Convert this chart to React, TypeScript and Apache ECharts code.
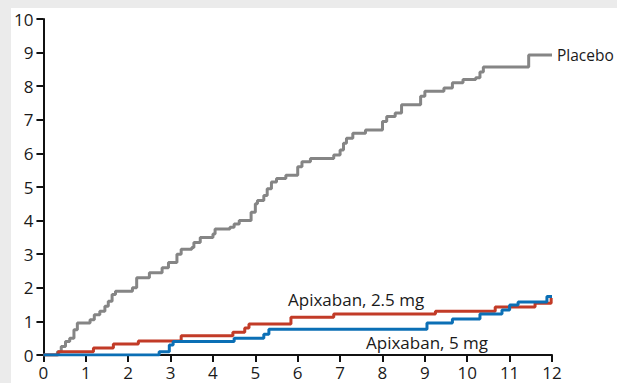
import React, { useEffect, useRef } from "react";
import * as echarts from "echarts";

// Cumulative incidence (%) by month; each pair is [month of step, value after step]
const placeboSteps: [number, number][] = [
  [0, 0], [0.33, 0.1], [0.42, 0.25], [0.52, 0.4], [0.62, 0.5], [0.72, 0.75], [0.8, 0.95],
  [1.1, 1.05], [1.2, 1.2], [1.33, 1.3], [1.45, 1.45], [1.53, 1.6], [1.62, 1.8], [1.7, 1.9],
  [2.1, 2.0], [2.2, 2.3], [2.5, 2.45], [2.8, 2.6], [2.95, 2.75], [3.15, 3.0], [3.25, 3.15],
  [3.5, 3.2], [3.55, 3.35], [3.7, 3.5], [4.0, 3.6], [4.05, 3.75], [4.4, 3.8], [4.5, 3.9],
  [4.62, 4.0], [4.9, 4.25], [5.0, 4.5], [5.05, 4.6], [5.2, 4.75], [5.28, 4.95], [5.38, 5.15],
  [5.5, 5.25], [5.72, 5.35], [6.0, 5.6], [6.1, 5.75], [6.3, 5.85], [6.85, 5.95], [7.0, 6.1],
  [7.08, 6.3], [7.15, 6.45], [7.3, 6.6], [7.6, 6.7], [8.0, 6.95], [8.1, 7.1], [8.3, 7.2],
  [8.45, 7.45], [8.9, 7.7], [9.0, 7.85], [9.45, 7.95], [9.65, 8.1], [9.9, 8.2], [10.2, 8.25],
  [10.3, 8.42], [10.38, 8.57], [11.45, 8.93], [12, 8.93],
];

const apixaban25Steps: [number, number][] = [
  [0, 0], [0.35, 0.1], [1.18, 0.21], [1.65, 0.33], [2.24, 0.42], [3.25, 0.57], [4.47, 0.68],
  [4.75, 0.8], [4.85, 0.92], [5.84, 1.12], [6.85, 1.22], [9.25, 1.3], [10.66, 1.43],
  [11.6, 1.54], [11.98, 1.7], [12, 1.7],
];

const apixaban5Steps: [number, number][] = [
  [0, 0], [2.73, 0.1], [2.97, 0.3], [3.06, 0.4], [4.5, 0.5], [5.2, 0.62], [5.32, 0.77],
  [9.05, 0.95], [9.65, 1.07], [10.3, 1.22], [10.82, 1.34], [11.0, 1.49], [11.2, 1.58],
  [11.88, 1.74], [12, 1.74],
];

const xTicks = [0, 12, 1]; // min, max, interval (months)
const yTicks = [0, 10, 1]; // min, max, interval (%)

const seriesNames = ["Placebo", "Apixaban, 2.5 mg", "Apixaban, 5 mg"];
const seriesColors = ["#858585", "#c23b27", "#0b6fb5"];

const FONT = "'Open Sans', 'Noto Sans', sans-serif";
const FONT_SIZE = 17;
const TEXT_COLOR = "#1a1a1a";

export default function App() {
  const ref = useRef<HTMLDivElement>(null);

  useEffect(() => {
    if (!ref.current) return;
    const chart = echarts.init(ref.current, null, { renderer: "svg" });
    const axisText = { color: TEXT_COLOR, fontSize: FONT_SIZE, fontFamily: FONT };
    const axisCommon = {
      type: "value",
      axisLine: { show: true, lineStyle: { color: "#111", width: 2 } },
      axisTick: { show: true, inside: false, length: 7, lineStyle: { color: "#111", width: 2 } },
      splitLine: { show: false },
    };
    const stepLine = (name: string, data: [number, number][], color: string, z: number) => ({
      name,
      type: "line",
      step: "end",
      data,
      symbol: "none",
      z,
      lineStyle: { color, width: 3 },
    });

    chart.setOption({
      animation: false,
      backgroundColor: "#ffffff",
      grid: { left: 31, top: 11, right: 65, bottom: 28, containLabel: false },
      xAxis: {
        ...axisCommon,
        min: xTicks[0],
        max: xTicks[1],
        interval: xTicks[2],
        axisLabel: { ...axisText, lineHeight: 15, margin: 10 },
      },
      yAxis: {
        ...axisCommon,
        min: yTicks[0],
        max: yTicks[1],
        interval: yTicks[2],
        axisLabel: { ...axisText, margin: 10 },
      },
      series: [
        {
          ...stepLine(seriesNames[0], placeboSteps, seriesColors[0], 3),
          endLabel: {
            show: true,
            formatter: seriesNames[0],
            color: TEXT_COLOR,
            fontSize: 15.5,
            fontFamily: FONT,
            distance: 5,
          },
        },
        stepLine(seriesNames[1], apixaban25Steps, seriesColors[1], 4),
        stepLine(seriesNames[2], apixaban5Steps, seriesColors[2], 5),
      ],
      graphic: [
        {
          type: "text",
          x: 277,
          y: 291,
          style: {
            text: seriesNames[1],
            fill: TEXT_COLOR,
            fontSize: FONT_SIZE,
            fontFamily: FONT,
            align: "left",
            verticalAlign: "middle",
          },
        },
        {
          type: "text",
          x: 355,
          y: 334,
          style: {
            text: seriesNames[2],
            fill: TEXT_COLOR,
            fontSize: FONT_SIZE,
            fontFamily: FONT,
            align: "left",
            verticalAlign: "middle",
          },
        },
      ],
    });
    return () => chart.dispose();
  }, []);

  return (
    <div
      style={{
        position: "absolute",
        left: 0,
        top: 0,
        width: 617,
        height: 383,
        background: "#ebebeb",
        overflow: "hidden",
      }}
    >
      <div
        ref={ref}
        style={{ position: "absolute", left: 11, top: 8, width: 606, height: 375, background: "#fff" }}
      />
    </div>
  );
}
